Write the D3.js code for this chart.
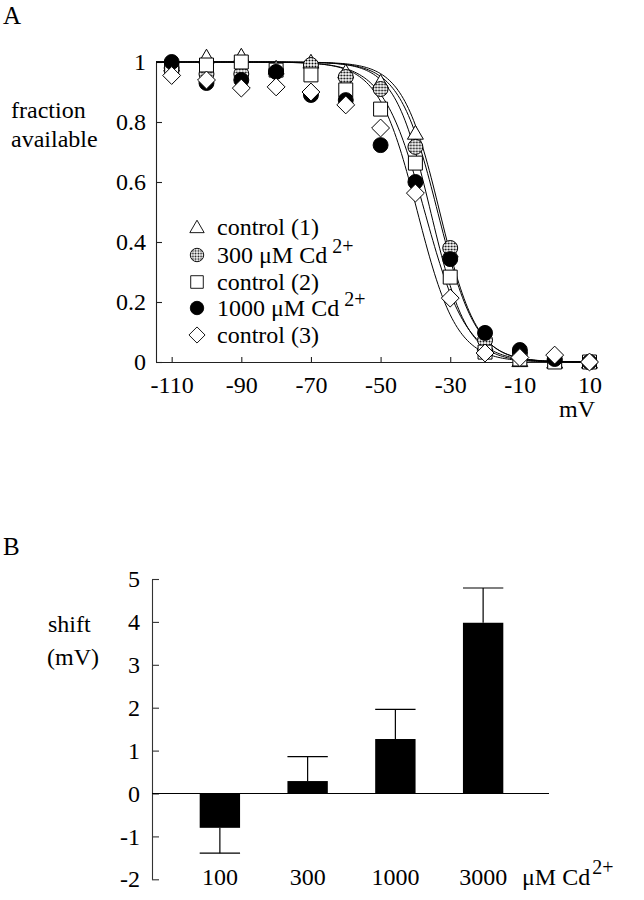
<!DOCTYPE html>
<html><head><meta charset="utf-8">
<script src="https://cdn.jsdelivr.net/npm/d3@7"></script>
<style>body{margin:0;background:#fff}</style>
</head><body>
<svg id="c" width="644" height="900" xmlns="http://www.w3.org/2000/svg"></svg>
<script>
// ---------- Panel A data ----------
const voltages = [-110, -100, -90, -80, -70, -60, -50, -40, -30, -20, -10, 0, 10];
const control1 = [0.99, 1.017, 1.02, 0.98, 1.0, 0.967, 0.933, 0.763, 0.37, 0.06, 0.005, 0.0, 0.0];
const cd300    = [0.98, 0.96, 0.96, 0.97, 0.99, 0.95, 0.91, 0.717, 0.38, 0.073, 0.03, 0.005, 0.0];
const control2 = [0.98, 0.99, 1.0, 0.973, 0.957, 0.907, 0.843, 0.663, 0.283, 0.033, 0.01, 0.0, 0.0];
const cd1000   = [1.0, 0.93, 0.94, 0.967, 0.89, 0.873, 0.723, 0.60, 0.343, 0.097, 0.04, 0.01, 0.0];
const control3 = [0.955, 0.94, 0.913, 0.917, 0.90, 0.857, 0.78, 0.563, 0.213, 0.03, 0.015, 0.023, 0.0];
const seriesNames = ["control (1)", "300 \u03bcM Cd", "control (2)", "1000 \u03bcM Cd", "control (3)"];
const seriesSup = ["", "2+", "", "2+", ""];
// Boltzmann fit parameters (half-inactivation voltage, slope factor), mV
const fitVhalf = [-33.0, -33.6, -35.6, -37.3, -39.4];
const fitSlope = [5.3, 5.5, 5.2, 6.0, 5.6];
const xTicksA = [-110, -90, -70, -50, -30, -10, 10];
const yTicksA = [0, 0.2, 0.4, 0.6, 0.8, 1];

// ---------- Panel B data ----------
const concentrations = ["100", "300", "1000", "3000"];
const shifts = [-0.8, 0.29, 1.27, 3.98];
const shiftErr = [0.59, 0.57, 0.69, 0.81];
const yTicksB = [-2, -1, 0, 1, 2, 3, 4, 5];

const FONT = "Liberation Serif";
const FS = 24;
const svg = d3.select("#c");
svg.append("rect").attr("width", 644).attr("height", 900).attr("fill", "#fff");

const defs = svg.append("defs");
const pat = defs.append("pattern").attr("id", "dots").attr("width", 3).attr("height", 3)
  .attr("patternUnits", "userSpaceOnUse");
pat.append("rect").attr("width", 3).attr("height", 3).attr("fill", "#fff");
pat.append("circle").attr("cx", 1.5).attr("cy", 1.5).attr("r", 1.0).attr("fill", "#000");

const hyph = s => String(s).replace("\u2212", "-");

// ================= Panel A =================
const xA = d3.scaleLinear().domain([-114.5, 10]).range([156, 589.5]);
const yA = d3.scaleLinear().domain([0, 1]).range([362, 62]);

svg.append("text").attr("x", 3).attr("y", 24).attr("font-family", FONT).attr("font-size", 25).text("A");

const gxA = svg.append("g").attr("transform", `translate(0,${yA(0)})`)
  .call(d3.axisBottom(xA).tickValues(xTicksA).tickFormat(d => hyph(d))
    .tickSizeInner(-5).tickSizeOuter(0).tickPadding(14));
const gyA = svg.append("g").attr("transform", `translate(${xA.range()[0]},0)`)
  .call(d3.axisLeft(yA).tickValues(yTicksA)
    .tickFormat(d => (d === 0 || d === 1) ? String(d) : d3.format(".1f")(d))
    .tickSizeInner(-6).tickSizeOuter(0).tickPadding(10));
[gxA, gyA].forEach(g => {
  g.selectAll("path,line").attr("stroke", "#222").attr("stroke-width", 1.1);
  g.selectAll("text").attr("font-family", FONT).attr("font-size", FS).attr("fill", "#000");
});

svg.append("text").attr("x", 559).attr("y", 417).attr("font-family", FONT).attr("font-size", FS).text("mV");
const ylab = svg.append("text").attr("font-family", FONT).attr("font-size", FS);
ylab.append("tspan").attr("x", 11).attr("y", 118).text("fraction");
ylab.append("tspan").attr("x", 11).attr("y", 147).text("available");

// fitted curves
const vSamples = d3.range(-114.5, 10.01, 0.5);
const line = d3.line().x(d => xA(d[0])).y(d => yA(d[1]));
fitVhalf.forEach((vh, i) => {
  const pts = vSamples.map(v => [v, 1 / (1 + Math.exp((v - vh) / fitSlope[i]))]);
  svg.append("path").attr("d", line(pts)).attr("fill", "none").attr("stroke", "#000").attr("stroke-width", 1);
});

// markers
const allSeries = [control1, cd300, control2, cd1000, control3];
const diamond = {draw(ctx, size) { const r = Math.sqrt(size / 2); ctx.moveTo(0, -r); ctx.lineTo(r, 0); ctx.lineTo(0, r); ctx.lineTo(-r, 0); ctx.closePath(); }};
const symbols = [
  d3.symbol(d3.symbolTriangle, 110),
  d3.symbol(d3.symbolCircle, 175),
  d3.symbol(d3.symbolSquare, 195),
  d3.symbol(d3.symbolCircle, 175),
  d3.symbol(diamond, 160)
];
const fills = ["#fff", "url(#dots)", "#fff", "#000", "#fff"];
const symYoff = [1.5, 0, 0, 0, 0];

allSeries.forEach((vals, i) => {
  svg.append("g").selectAll("path").data(vals).join("path")
    .attr("d", symbols[i])
    .attr("transform", (d, j) => `translate(${xA(voltages[j])},${yA(d) + symYoff[i]})`)
    .attr("fill", fills[i]).attr("stroke", "#000").attr("stroke-width", 1);
});

// legend
const legY = [227, 255, 282, 308, 335];
seriesNames.forEach((name, i) => {
  svg.append("path").attr("d", symbols[i]).attr("transform", `translate(197,${legY[i] + symYoff[i]}) scale(0.9)`)
    .attr("fill", fills[i]).attr("stroke", "#000").attr("stroke-width", 1);
  const t = svg.append("text").attr("x", 217).attr("y", legY[i] + 8).attr("font-family", FONT).attr("font-size", FS);
  t.append("tspan").text(name);
  if (seriesSup[i]) t.append("tspan").attr("dx", 5).attr("dy", -10).attr("font-size", 20).text(seriesSup[i]);
});

// ================= Panel B =================
const yB = d3.scaleLinear().domain([-2, 5]).range([879.3, 579]);
const xB = d3.scaleBand().domain(concentrations).range([176, 527]).paddingInner(0.54).paddingOuter(0.27);
const axX = 152;

svg.append("text").attr("x", 3).attr("y", 555).attr("font-family", FONT).attr("font-size", 25).text("B");

const gyB = svg.append("g").attr("transform", `translate(${axX},0)`)
  .call(d3.axisLeft(yB).tickValues(yTicksB).tickFormat(d => hyph(d3.format("d")(d)))
    .tickSizeInner(-7).tickSizeOuter(0).tickPadding(12));
gyB.selectAll("path,line").attr("stroke", "#333").attr("stroke-width", 1.1);
gyB.selectAll("text").attr("font-family", FONT).attr("font-size", FS).attr("fill", "#000");

const slab = svg.append("text").attr("font-family", FONT).attr("font-size", FS);
slab.append("tspan").attr("x", 48).attr("y", 632).text("shift");
slab.append("tspan").attr("x", 47).attr("y", 665).text("(mV)");

// zero line
svg.append("line").attr("x1", axX).attr("x2", 549).attr("y1", yB(0)).attr("y2", yB(0))
  .attr("stroke", "#000").attr("stroke-width", 1.2);

// bars
svg.append("g").selectAll("rect").data(shifts).join("rect")
  .attr("x", (d, i) => xB(concentrations[i]))
  .attr("width", xB.bandwidth())
  .attr("y", d => yB(Math.max(0, d)))
  .attr("height", d => Math.abs(yB(d) - yB(0)))
  .attr("fill", "#000");

// error bars
const eg = svg.append("g").attr("stroke", "#000").attr("stroke-width", 1.2);
shifts.forEach((d, i) => {
  const cx = xB(concentrations[i]) + xB.bandwidth() / 2;
  const end = d + Math.sign(d) * shiftErr[i];
  eg.append("line").attr("x1", cx).attr("x2", cx).attr("y1", yB(d)).attr("y2", yB(end));
  eg.append("line").attr("x1", xB(concentrations[i])).attr("x2", xB(concentrations[i]) + xB.bandwidth())
    .attr("y1", yB(end)).attr("y2", yB(end));
});

// category labels
svg.append("g").selectAll("text").data(concentrations).join("text")
  .attr("x", d => xB(d) + xB.bandwidth() / 2).attr("y", 885)
  .attr("text-anchor", "middle").attr("font-family", FONT).attr("font-size", FS).text(d => d);
const ul = svg.append("text").attr("x", 522).attr("y", 885).attr("font-family", FONT).attr("font-size", FS);
ul.append("tspan").text("\u03bcM Cd");
ul.append("tspan").attr("dx", 2).attr("dy", -11).attr("font-size", 20).text("2+");
</script>
</body></html>
